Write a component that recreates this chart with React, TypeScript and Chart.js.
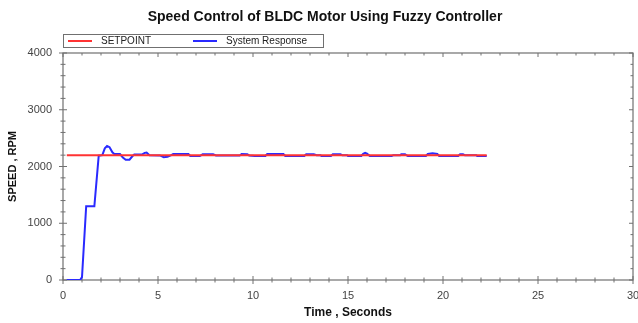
import { useEffect, useRef } from "react";
import { Chart, registerables } from "chart.js";

Chart.register(...registerables);

const TITLE = "Speed Control of BLDC Motor Using Fuzzy Controller";
const X_TITLE = "Time , Seconds";
const Y_TITLE = "SPEED , RPM";
const SETPOINT_LABEL = "SETPOINT";
const RESPONSE_LABEL = "System Response";

const xRange = [0, 30];
const yRange = [0, 4000];
const xMajorStep = 5;
const xMinorStep = 1;
const yMajorStep = 1000;
const yMinorStep = 200;

const setpointTime = [0.2, 22.3];
const setpointSpeed = [2200, 2200];

const responseTime = [
  0.2, 0.9, 1.0, 1.22, 1.65, 1.88, 2.07, 2.2, 2.32, 2.45, 2.6, 2.7, 3.0, 3.15, 3.3, 3.5, 3.65, 3.75,
  4.15, 4.3, 4.4, 4.55, 5.1, 5.3, 5.5, 5.7, 5.8, 6.6, 6.7, 7.2, 7.35, 7.9, 8.05, 9.3, 9.4, 9.7, 9.8,
  10.1, 10.65, 10.75, 11.6, 11.7, 12.7, 12.8, 13.2, 13.35, 13.55, 13.6, 14.1, 14.2, 14.6, 14.7, 14.95,
  15.0, 15.7, 15.8, 15.9, 16.0, 16.15, 17.3, 17.4, 17.75, 17.8, 18.0, 18.15, 19.1, 19.2, 19.45, 19.7,
  19.8, 20.8, 20.9, 21.05, 21.15, 21.75, 21.8, 22.3,
];
const responseSpeed = [
  0, 0, 50, 1300, 1300, 2190, 2200, 2320, 2360, 2340, 2250, 2220, 2220, 2160, 2120, 2120, 2180, 2210,
  2210, 2240, 2245, 2200, 2195, 2165, 2170, 2200, 2220, 2220, 2185, 2185, 2215, 2215, 2195, 2195, 2220, 2215, 2195,
  2185, 2185, 2220, 2220, 2185, 2185, 2215, 2215, 2200, 2200, 2185, 2185, 2215, 2215, 2200, 2200,
  2185, 2185, 2225, 2240, 2225, 2185, 2185, 2200, 2200, 2215, 2215, 2185, 2185, 2220, 2235, 2220,
  2185, 2185, 2215, 2215, 2200, 2200, 2185, 2185,
];

const FONT = "Arial, 'Liberation Sans', sans-serif";

const decorPlugin = {
  id: "decor",
  beforeDatasetsDraw(chart: any) {
    const { ctx, chartArea: a, scales } = chart;
    const x = scales.x;
    const y = scales.y;
    ctx.save();
    ctx.strokeStyle = "#707070";
    ctx.lineWidth = 1.2;
    ctx.strokeRect(a.left, a.top, a.right - a.left, a.bottom - a.top);
    ctx.lineWidth = 1;
    ctx.beginPath();
    for (let v = xRange[0]; v <= xRange[1]; v += xMinorStep) {
      const px = x.getPixelForValue(v);
      const major = v % xMajorStep === 0;
      const L = major ? 4 : 2.5;
      ctx.moveTo(px, a.bottom - L);
      ctx.lineTo(px, a.bottom + L);
      ctx.moveTo(px, a.top);
      ctx.lineTo(px, a.top + L);
    }
    for (let v = yRange[0]; v <= yRange[1]; v += yMinorStep) {
      const py = y.getPixelForValue(v);
      const major = v % yMajorStep === 0;
      const L = major ? 4 : 2.5;
      ctx.moveTo(a.left - L, py);
      ctx.lineTo(a.left + L, py);
      ctx.moveTo(a.right - L, py);
      ctx.lineTo(a.right, py);
    }
    ctx.stroke();
    ctx.restore();
  },
  afterDraw(chart: any) {
    const { ctx, chartArea: a } = chart;
    ctx.save();
    ctx.fillStyle = "#111";
    ctx.font = `bold 14px ${FONT}`;
    ctx.textAlign = "center";
    ctx.textBaseline = "middle";
    ctx.fillText(TITLE, chart.width / 2 + 6, 17.5);
    const top = a.top - 19;
    const h = 13;
    ctx.strokeStyle = "#707070";
    ctx.lineWidth = 1;
    ctx.strokeRect(a.left + 0.5, top + 0.5, 260, h);
    const ds = chart.data.datasets;
    const offsets = [5, 130];
    ctx.font = `10px ${FONT}`;
    ctx.textAlign = "left";
    ds.forEach((d: any, i: number) => {
      const sx = a.left + offsets[i];
      const cy = top + h / 2 + 0.5;
      ctx.strokeStyle = d.borderColor;
      ctx.lineWidth = 2;
      ctx.beginPath();
      ctx.moveTo(sx, cy);
      ctx.lineTo(sx + 24, cy);
      ctx.stroke();
      ctx.fillStyle = "#222";
      ctx.fillText(d.label, sx + 33, cy + 0.5);
    });
    ctx.restore();
  },
};

export default function App() {
  const ref = useRef<HTMLCanvasElement>(null);
  useEffect(() => {
    const canvas = ref.current!;
    const chart = new Chart(canvas, {
      type: "line",
      data: {
        datasets: [
          {
            label: SETPOINT_LABEL,
            data: setpointTime.map((t, i) => ({ x: t, y: setpointSpeed[i] })),
            borderColor: "#ff3333",
            borderWidth: 2,
            pointRadius: 0,
            tension: 0,
            order: 0,
          },
          {
            label: RESPONSE_LABEL,
            data: responseTime.map((t, i) => ({ x: t, y: responseSpeed[i] })),
            borderColor: "#2a2aff",
            borderWidth: 2,
            pointRadius: 0,
            tension: 0,
            order: 1,
          },
        ],
      },
      options: {
        responsive: false,
        animation: false,
        devicePixelRatio: 1,
        layout: { padding: { top: 53, right: 5, left: 0, bottom: 0 } },
        plugins: {
          legend: { display: false },
          title: { display: false },
          tooltip: { enabled: false },
        },
        scales: {
          x: {
            type: "linear",
            min: xRange[0],
            max: xRange[1],
            border: { display: false },
            grid: { display: false, drawTicks: false },
            ticks: {
              stepSize: xMajorStep,
              padding: 9,
              color: "#444",
              font: { family: FONT, size: 11 },
              callback: (v: any) => String(v),
            },
            title: {
              display: true,
              text: X_TITLE,
              color: "#111",
              font: { family: FONT, size: 12, weight: "bold" },
              padding: { top: 0, bottom: 3 },
            },
            afterFit: (s: any) => {
              s.height = 43;
              s.paddingLeft = 0;
              s.paddingRight = 0;
            },
          },
          y: {
            type: "linear",
            min: yRange[0],
            max: yRange[1],
            border: { display: false },
            grid: { display: false, drawTicks: false },
            ticks: {
              stepSize: yMajorStep,
              padding: 11,
              color: "#444",
              font: { family: FONT, size: 11 },
              callback: (v: any) => String(v),
            },
            title: {
              display: true,
              text: Y_TITLE,
              color: "#111",
              font: { family: FONT, size: 11, weight: "bold" },
              padding: { top: 6, bottom: 0 },
            },
            afterFit: (s: any) => {
              s.width = 63;
              s.paddingTop = 0;
              s.paddingBottom = 0;
            },
          },
        },
      },
      plugins: [decorPlugin],
    });
    return () => chart.destroy();
  }, []);
  return (
    <div style={{ position: "fixed", left: 0, top: 0, width: 638, height: 323, background: "#fff" }}>
      <canvas ref={ref} width={638} height={323} style={{ width: 638, height: 323 }} />
    </div>
  );
}
